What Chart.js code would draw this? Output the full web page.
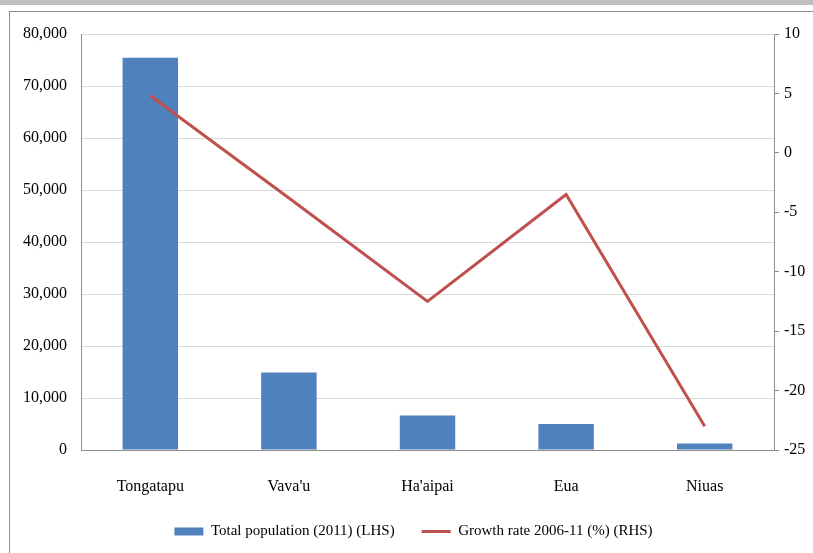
<!DOCTYPE html>
<html>
<head>
<meta charset="utf-8">
<script src="https://cdn.jsdelivr.net/npm/chart.js"></script>
<style>
  html, body { margin: 0; padding: 0; background: #fff; }
  #topbar { position: absolute; left: 0; top: 0; width: 813px; height: 5px; background: #bfbfbf; }
  #frame { position: absolute; left: 9px; top: 11px; width: 900px; height: 600px;
           border-left: 1px solid #8c8c8c; border-top: 1px solid #8c8c8c; }
  #wrap { position: absolute; left: 0; top: 0; width: 813px; height: 553px; }
</style>
</head>
<body>
<div id="topbar"></div>
<div id="frame"></div>
<div id="wrap"><canvas id="chart" width="813" height="553"></canvas></div>
<script>
    // values
    const islands = ["Tongatapu", "Vava'u", "Ha'aipai", "Eua", "Niuas"];
    const population2011 = [75416, 14922, 6616, 5016, 1232];
    const growthRate = [4.8, -3.8, -12.5, -3.5, -23.0];

    const seriesNames = ["Total population (2011) (LHS)", "Growth rate 2006-11 (%) (RHS)"];

    Chart.defaults.font.family = "'Liberation Serif', 'Times New Roman', serif";
    Chart.defaults.font.size = 16;
    Chart.defaults.color = "#000";

    let ctx = document.getElementById("chart").getContext("2d");
    new Chart(ctx, {
        type: "bar",
        data: {
            labels: islands,
            datasets: [{
                type: "line",
                label: seriesNames[1],
                data: growthRate,
                yAxisID: "yRight",
                borderColor: "#c0504d",
                backgroundColor: "#c0504d",
                borderWidth: 3,
                pointRadius: 0,
                tension: 0,
                order: 1
            }, {
                type: "bar",
                label: seriesNames[0],
                data: population2011,
                yAxisID: "yLeft",
                backgroundColor: "#4f81bd",
                borderWidth: 0,
                barPercentage: 0.5,
                categoryPercentage: 0.8,
                order: 2
            }]
        },
        options: {
            responsive: false,
            animation: false,
            layout: { padding: { top: 34, left: 14, right: 0, bottom: 4 } },
            plugins: {
                tooltip: { enabled: false },
                legend: {
                    position: "bottom",
                    reverse: true,
                    labels: {
                        usePointStyle: true,
                        pointStyleWidth: 29,
                        boxHeight: 8,
                        padding: 27,
                        font: { size: 15 },
                        generateLabels: function (chart) {
                            return chart.data.datasets.map(function (ds, i) {
                                return {
                                    text: ds.label,
                                    fillStyle: ds.backgroundColor,
                                    strokeStyle: ds.type === "line" ? ds.borderColor : ds.backgroundColor,
                                    lineWidth: ds.type === "line" ? 3 : 0,
                                    pointStyle: ds.type === "line" ? "line" : "rect",
                                    datasetIndex: i,
                                    hidden: false
                                };
                            });
                        }
                    }
                }
            },
            scales: {
                x: {
                    grid: { display: false, drawTicks: false },
                    border: { color: "#8c8c8c", width: 1 },
                    ticks: { padding: 27 },
                    afterFit: function (scale) { scale.height = 47; }
                },
                yLeft: {
                    position: "left",
                    min: 0,
                    max: 80000,
                    ticks: {
                        stepSize: 10000,
                        padding: 14,
                        callback: function (v) { return v.toLocaleString("en-US"); }
                    },
                    grid: { color: "#d9d9d9", drawTicks: false },
                    border: { color: "#8c8c8c", width: 1 },
                    afterFit: function (scale) { scale.width = 67; }
                },
                yRight: {
                    position: "right",
                    min: -25,
                    max: 10,
                    ticks: { stepSize: 5, padding: 5 },
                    grid: { drawOnChartArea: false, drawTicks: true, tickLength: 5, color: "#8c8c8c" },
                    border: { color: "#8c8c8c", width: 1 },
                    afterFit: function (scale) { scale.width = 39; }
                }
            }
        }
    });
</script>
</body>
</html>
